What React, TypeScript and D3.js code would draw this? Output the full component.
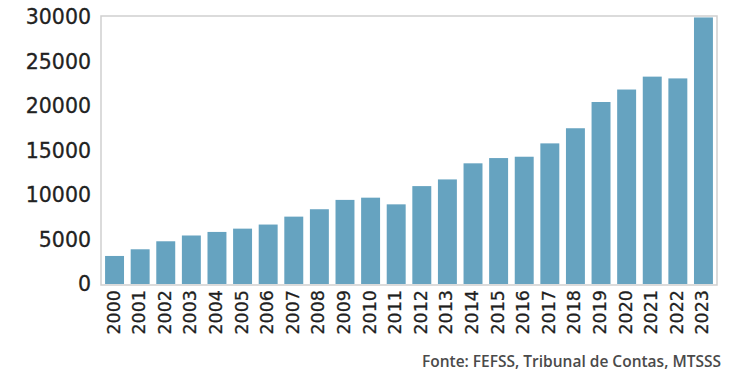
import React, { useRef, useEffect } from 'react';
import * as d3 from 'd3';

const years = ['2000', '2001', '2002', '2003', '2004', '2005', '2006', '2007', '2008', '2009', '2010', '2011',
  '2012', '2013', '2014', '2015', '2016', '2017', '2018', '2019', '2020', '2021', '2022', '2023'];
const values = [3150, 3900, 4800, 5450, 5850, 6220, 6680, 7570, 8400, 9450, 9700, 8950,
  11000, 11750, 13560, 14150, 14300, 15800, 17500, 20450, 21850, 23300, 23100, 29950];
const yTicks = [0, 5000, 10000, 15000, 20000, 25000, 30000];
const source = 'Fonte: FEFSS, Tribunal de Contas, MTSSS';

const W = 740;
const H = 389;
const margin = { top: 16, right: 23, bottom: 104, left: 101 };

export default function App() {
  const svgRef = useRef<SVGSVGElement>(null);

  useEffect(() => {
    const svg = d3.select(svgRef.current);
    svg.selectAll('*').remove();

    const x0 = margin.left;
    const x1 = W - margin.right;
    const y0 = H - margin.bottom;
    const y1 = margin.top;

    const x = d3.scaleBand().domain(years).range([x0 + 1, x1 - 1]).paddingInner(0.26).paddingOuter(0.12);
    const y = d3.scaleLinear().domain([0, 30000]).range([y0 - 1, y1 + 1]);

    // frame
    svg.append('rect')
      .attr('x', x0).attr('y', y1)
      .attr('width', x1 - x0).attr('height', y0 - y1)
      .attr('fill', 'none').attr('stroke', '#cfcfcf').attr('stroke-width', 1.5);

    // bars
    svg.append('g').selectAll('rect')
      .data(values)
      .join('rect')
      .attr('x', (_, i) => x(years[i])!)
      .attr('width', x.bandwidth())
      .attr('y', d => y(d))
      .attr('height', d => y(0) - y(d))
      .attr('fill', '#66a3c0');

    // y labels
    svg.append('g').selectAll('text')
      .data(yTicks)
      .join('text')
      .attr('x', 91)
      .attr('y', d => y(d) + 1)
      .attr('text-anchor', 'end')
      .attr('dominant-baseline', 'middle')
      .attr('font-family', 'DejaVu Sans, sans-serif')
      .attr('font-size', 20.5)
      .attr('fill', '#222')
      .attr('stroke', '#222')
      .attr('stroke-width', 0.3)
      .text(d => String(d));

    // x labels
    svg.append('g').selectAll('text')
      .data(years)
      .join('text')
      .attr('transform', d => `translate(${x(d)! + x.bandwidth() / 2},${y0 + 5}) rotate(-90)`)
      .attr('text-anchor', 'end')
      .attr('dominant-baseline', 'middle')
      .attr('font-family', 'DejaVu Sans, sans-serif')
      .attr('font-size', 17.5)
      .attr('fill', '#1e1e1e')
      .attr('stroke', '#1e1e1e')
      .attr('stroke-width', 0.3)
      .text(d => d);

    // source
    svg.append('text')
      .attr('x', 721)
      .attr('y', 367)
      .attr('text-anchor', 'end')
      .attr('font-family', 'Open Sans, sans-serif')
      .attr('font-size', 15.5)
      .attr('font-weight', 600)
      .attr('fill', '#4a4a4a')
      .text(source);
  }, []);

  return (
    <svg
      ref={svgRef}
      width={W}
      height={H}
      style={{ position: 'absolute', left: 0, top: 0, background: '#fff' }}
    />
  );
}
